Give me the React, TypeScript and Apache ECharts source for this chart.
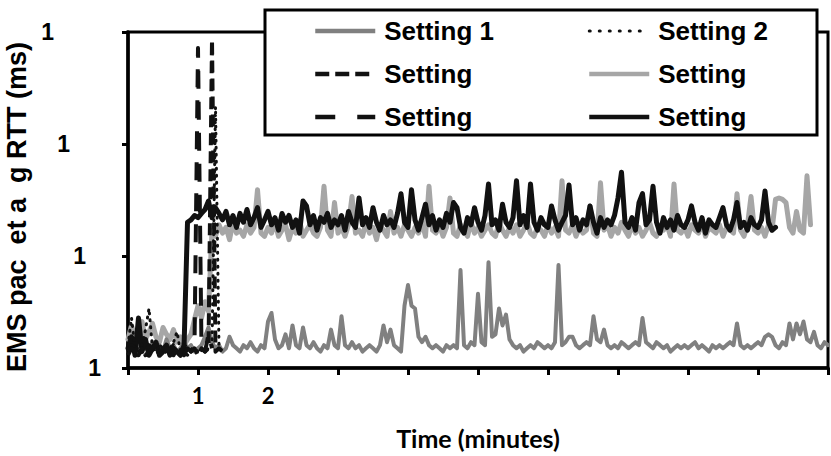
import React, { useEffect, useRef } from "react";
import * as echarts from "echarts";

// sampling step of every series (minutes)
const STEP_MIN = 0.05;

const X_TICK_LABELS: Record<number, string> = { 1: "1", 2: "2" };
const Y_TICK_LABELS = ["1", "1", "1", "1"];

const SERIES_NAMES = ["Setting 1", "Setting 2", "Setting 3", "Setting 4", "Setting 5", "Setting 6"];
const LEGEND_LABELS: Record<string, string> = {
  "Setting 1": "Setting 1",
  "Setting 2": "Setting 2",
  "Setting 3": "Setting",
  "Setting 4": "Setting",
  "Setting 5": "Setting",
  "Setting 6": "Setting",
};

// Setting 1 (medium gray, solid)
const S1 = [
  1.5, 1.7, 1.4, 1.6, 1.8, 1.5, 1.4, 1.7, 1.5, 1.6, 1.4, 1.8, 1.5, 1.6, 1.4, 1.5, 1.7, 1.5, 1.6, 1.4,
  1.5, 1.6, 1.9, 2.3, 1.7, 1.5, 1.6, 1.4, 1.5, 1.9, 1.6, 1.5, 1.4, 1.6, 1.5, 1.7, 1.5, 1.4, 1.6, 1.5,
  2.6, 3.1, 1.8, 1.5, 1.6, 2.0, 1.5, 2.4, 1.6, 1.5, 2.3, 1.6, 1.5, 1.7, 1.5, 1.4, 1.6, 1.5, 2.2, 1.6,
  1.5, 2.9, 1.6, 1.5, 1.7, 1.5, 1.6, 1.4, 1.5, 1.6, 1.5, 1.4, 1.6, 2.4, 1.7, 2.2, 1.6, 1.5, 1.4, 3.6,
  5.5, 3.6, 3.4, 1.9, 1.7, 1.9, 1.6, 1.5, 1.6, 1.5, 1.4, 1.6, 1.5, 1.6, 1.5, 7.5, 1.6, 1.5, 1.7, 1.6,
  4.6, 1.7, 1.6, 8.8, 1.9, 2.0, 3.4, 2.4, 3.0, 1.8, 1.6, 1.5, 1.6, 1.4, 1.5, 1.6, 1.5, 1.7, 1.6, 1.5,
  1.6, 1.5, 1.7, 8.3, 1.6, 1.7, 1.9, 1.9, 1.6, 1.5, 1.6, 1.7, 1.6, 2.9, 1.8, 1.7, 2.2, 1.6, 1.5, 1.6,
  1.5, 1.7, 1.6, 1.5, 1.6, 1.7, 1.6, 2.8, 1.7, 1.6, 1.5, 1.7, 1.6, 1.5, 1.6, 1.4, 1.5, 1.6, 1.5, 1.6,
  1.5, 1.6, 1.7, 1.5, 1.6, 1.5, 1.4, 1.6, 1.5, 1.6, 1.5, 1.6, 1.7, 1.6, 2.5, 1.6, 1.5, 1.6, 1.5, 1.6,
  1.7, 1.6, 1.9, 2.0, 1.9, 1.6, 1.5, 1.7, 1.6, 2.5, 1.8, 2.5, 2.0, 2.6, 1.8, 1.7, 2.1, 1.6, 1.5, 1.7,
  1.6,
];

// Setting 2 (black, dotted)
const S2 = [
  1.6, 2.8, 1.5, 1.4, 1.6, 2.2, 3.4, 1.5, 1.4, 1.6, 1.5, 1.4, 1.5, 1.7, 2.1, 1.4, 1.5, 1.3, 1.4, 1.5,
  1.4, 1.5, 1.4, 1.5, 1.5, 214, 1.5, 1.4,
];

// Setting 3 (black, short dashes)
const S3 = [
  1.4, 1.6, 1.5, 1.3, 1.5, 1.4, 1.6, 1.5, 1.3, 1.4, 1.5, 1.6, 1.4, 1.3, 1.5, 1.4, 1.6, 1.5, 1.4, 1.5,
  1.3, 1.5, 1.4, 1.5, 850, 1.4, 1.5, 1.4,
];

// Setting 4 (light gray, solid)
const S4 = [
  1.8, 2.4, 1.9, 2.2, 2.6, 1.8, 2.1, 2.5, 1.9, 1.7, 2.3, 2.0, 1.8, 2.2, 1.7, 1.9, 1.6, 1.8, 2.0, 2.7,
  3.6, 2.8, 3.9, 3.2, 17, 15, 19, 16, 18, 14, 20, 16, 17, 15, 19, 16, 18, 39, 16, 15,
  18, 16, 20, 15, 17, 19, 14, 18, 16, 21, 15, 17, 19, 16, 15, 18, 42, 17, 15, 30,
  16, 18, 15, 19, 34, 16, 17, 15, 20, 16, 18, 14, 19, 17, 15, 25, 16, 18, 15, 19,
  17, 15, 18, 16, 20, 15, 42, 17, 16, 19, 15, 18, 33, 16, 15, 19, 17, 15, 20, 16,
  18, 15, 17, 19, 16, 15, 20, 17, 15, 18, 16, 19, 15, 17, 20, 16, 15, 18, 17, 15,
  19, 16, 18, 15, 47, 17, 16, 19, 15, 18, 16, 17, 28, 16, 15, 45, 17, 19, 15, 18,
  16, 20, 17, 15, 19, 16, 18, 15, 17, 20, 16, 15, 18, 17, 19, 15, 44, 17, 16, 18,
  15, 19, 17, 16, 20, 15, 18, 17, 16, 19, 15, 18, 17, 16, 36, 17, 15, 19, 34, 17,
  16, 18, 15, 19, 17, 32, 33, 32, 30, 18, 16, 25, 17, 16, 52, 19,
];

// Setting 5 (black, long dashes)
const S5 = [
  1.3, 1.5, 1.4, 1.6, 1.5, 1.3, 1.4, 1.5, 1.6, 1.4, 1.3, 1.5, 1.4, 1.6, 1.5, 1.4, 1.3, 1.5, 1.4, 1.6,
  720, 1.5, 1.4, 2.0, 1.5,
];

// Setting 6 (black, solid)
const S6 = [
  1.5, 1.9, 1.3, 2.8, 1.4, 1.8, 1.3, 1.5, 1.7, 1.3, 1.4, 1.6, 1.3, 1.5, 1.4, 1.3, 1.5, 20, 21, 23,
  22, 24, 26, 31, 22, 27, 24, 21, 25, 19, 23, 18, 24, 20, 26, 19, 22, 27, 18, 21,
  25, 19, 22, 17, 24, 20, 23, 18, 21, 16, 31, 28, 19, 23, 17, 22, 20, 24, 18, 21,
  19, 23, 17, 25, 20, 18, 33, 19, 22, 18, 27, 20, 17, 23, 19, 21, 18, 24, 36, 20,
  18, 39, 21, 17, 22, 29, 19, 23, 17, 21, 18, 24, 20, 30, 27, 18, 16, 22, 19, 27,
  20, 17, 23, 44, 19, 21, 17, 29, 20, 18, 22, 47, 19, 23, 18, 44, 20, 17, 22, 19,
  18, 28, 21, 17, 20, 23, 43, 19, 22, 17, 21, 19, 28, 20, 16, 22, 18, 21, 19, 23,
  33, 56, 20, 18, 22, 17, 30, 36, 19, 21, 42, 20, 16, 22, 18, 21, 17, 23, 19, 18,
  21, 28, 20, 17, 22, 16, 21, 19, 18, 22, 27, 19, 17, 21, 30, 18, 20, 17, 22, 19,
  18, 21, 38, 20, 17, 18,
];

const toPairs = (vals: number[]) => vals.map((v, i) => [Number((i * STEP_MIN).toFixed(2)), v]);

const ARIAL = "'Liberation Sans', Arial, sans-serif";
const HUMAN = "Lato, 'Open Sans', sans-serif";

export default function App() {
  const ref = useRef<HTMLDivElement>(null);

  useEffect(() => {
    if (!ref.current) return;
    const chart = echarts.init(ref.current, undefined, { renderer: "svg" });

    const legendText = {
      fontFamily: ARIAL,
      fontWeight: "bold" as const,
      fontSize: 26,
      color: "#000",
      lineHeight: 28,
      padding: [0, 0, 0, 4],
    };
    const legendCommon = {
      orient: "vertical" as const,
      top: 17,
      itemWidth: 60,
      itemHeight: 14,
      itemGap: 15,
      padding: 0,
      selectedMode: false,
      textStyle: legendText,
      itemStyle: { opacity: 0 },
      formatter: (n: string) => LEGEND_LABELS[n],
      z: 20,
    };

    const lineSeries = (name: string, data: number[], color: string, width: number, type: any, z: number, extra: any = {}) => ({
      name,
      type: "line",
      data: toPairs(data),
      symbol: "none",
      showSymbol: false,
      z,
      lineStyle: { color, width, type, join: "round", cap: "round", ...extra },
      itemStyle: { color },
    });

    const yLabel = (padRight: number) => ({
      fontFamily: ARIAL,
      fontWeight: "bold",
      fontSize: 23,
      color: "#000",
      padding: [0, padRight, 0, 0],
    });

    chart.setOption({
      animation: false,
      backgroundColor: "#fff",
      grid: {
        left: 128,
        right: 3,
        top: 32,
        bottom: 88,
        show: true,
        borderColor: "#000",
        borderWidth: 3,
        containLabel: false,
        outerBoundsMode: "none",
      },
      xAxis: {
        type: "value",
        min: 0,
        max: 10,
        interval: 1,
        name: "Time (minutes)",
        nameLocation: "middle",
        nameGap: 57,
        nameTextStyle: { fontFamily: HUMAN, fontWeight: "bold", fontSize: 25, color: "#000" },
        axisLine: { show: true, lineStyle: { color: "#000", width: 3.5 } },
        axisTick: { show: true, inside: false, length: 7, lineStyle: { color: "#000", width: 3 } },
        axisLabel: {
          formatter: (v: number) => X_TICK_LABELS[v] ?? "",
          margin: 16,
          fontFamily: HUMAN,
          fontWeight: "bold",
          fontSize: 22,
          color: "#000",
        },
        splitLine: { show: false },
      },
      yAxis: {
        type: "log",
        logBase: 10,
        min: 1,
        max: 1000,
        name: "EMS pac  et a  g RTT (ms)",
        nameLocation: "middle",
        nameGap: 91,
        nameTextStyle: {
          fontFamily: ARIAL,
          fontWeight: "bold",
          fontSize: 27,
          color: "#000",
          padding: [0, 14, 0, 0],
        },
        axisLine: { show: true, lineStyle: { color: "#000", width: 3.5 } },
        axisTick: { show: true, inside: false, length: 6, lineStyle: { color: "#000", width: 3 } },
        axisLabel: {
          formatter: (_v: number, idx: number) => `{p${idx}|${Y_TICK_LABELS[idx] ?? ""}}`,
          margin: 27,
          rich: {
            p0: yLabel(0),
            p1: yLabel(15),
            p2: yLabel(31),
            p3: yLabel(47),
          },
        },
        splitLine: { show: false },
      },
      legend: [
        {
          ...legendCommon,
          left: 313,
          data: [
            { name: "Setting 1", lineStyle: { width: 4.5, cap: "butt" } },
            { name: "Setting 3", lineStyle: { width: 4.5, type: [14, 6], cap: "butt" } },
            { name: "Setting 5", lineStyle: { width: 4.5, type: [20, 22], cap: "butt" } },
          ],
        },
        {
          ...legendCommon,
          left: 587,
          data: [
            { name: "Setting 2", lineStyle: { width: 3, type: [1, 9], cap: "round" } },
            { name: "Setting 4", lineStyle: { width: 4.5, cap: "butt" } },
            { name: "Setting 6", lineStyle: { width: 4.5, cap: "butt" } },
          ],
        },
      ],
      graphic: [
        {
          type: "rect",
          z: 10,
          shape: { x: 265, y: 10, width: 552, height: 125 },
          style: { fill: "#fff", stroke: "#000", lineWidth: 3 },
        },
      ],
      series: [
        lineSeries(SERIES_NAMES[0], S1, "#808080", 4, "solid", 3),
        lineSeries(SERIES_NAMES[1], S2, "#111", 3, [1, 6], 5),
        lineSeries(SERIES_NAMES[2], S3, "#111", 4, [12, 6], 5, { cap: "butt" }),
        lineSeries(SERIES_NAMES[3], S4, "#a6a6a6", 5, "solid", 2),
        lineSeries(SERIES_NAMES[4], S5, "#111", 4, [18, 13], 5, { cap: "butt" }),
        lineSeries(SERIES_NAMES[5], S6, "#111", 5, "solid", 4),
      ],
    });

    return () => chart.dispose();
  }, []);

  return <div ref={ref} style={{ position: "fixed", left: 0, top: 0, width: 831, height: 456 }} />;
}
